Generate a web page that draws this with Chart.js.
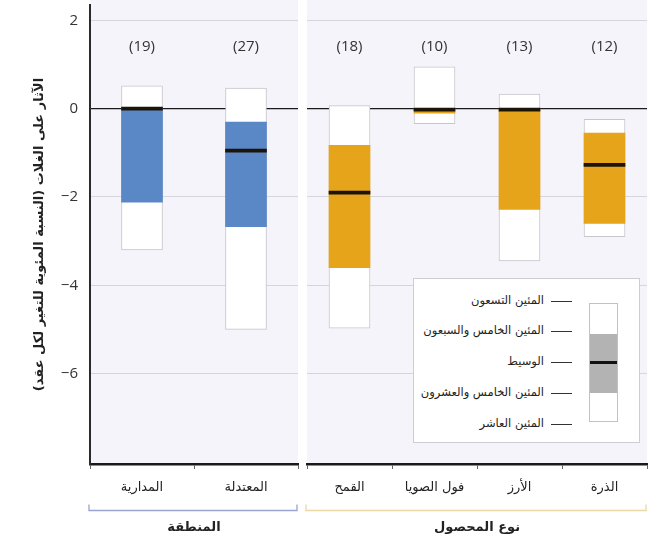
<!DOCTYPE html>
<html lang="ar">
<head>
<meta charset="utf-8">
<title>الآثار على الغلات</title>
<script src="https://cdn.jsdelivr.net/npm/chart.js@4/dist/chart.umd.min.js"></script>
<style>
  html, body { margin: 0; padding: 0; background: #fff; }
  #wrap { position: relative; width: 657px; height: 538px; overflow: hidden; }
  #left { position: absolute; left: 0; top: 0; }
  #right { position: absolute; left: 300px; top: 0; }
  .legend { position: absolute; left: 413px; top: 278px; width: 227px; height: 165px;
            background: #fff; border: 1px solid #cdcdd3; box-sizing: border-box; }
  .legend .lab { position: absolute; right: 95px; height: 14px; line-height: 14px; margin-top: -8px;
                 font: 11.5px 'DejaVu Sans', sans-serif; color: #222; white-space: nowrap; }
  .legend .dash { position: absolute; left: 137px; width: 21px; height: 1px; background: #333; }
  .legend .mini { position: absolute; left: 175px; top: 24px; width: 29px; height: 119px;
                  background: #fff; border: 1px solid #c2c2c6; box-sizing: border-box; }
  .legend .band { position: absolute; left: 0; right: 0; top: 30px; height: 59px; background: #b3b3b3; }
  .legend .med { position: absolute; left: 0; right: 0; top: 57px; height: 3px; background: #111; }
</style>
</head>
<body>
<div id="wrap">
  <canvas id="left" width="300" height="538"></canvas>
  <canvas id="right" width="357" height="538"></canvas>
  <div class="legend" id="legend">
    <div class="mini"><div class="band"></div><div class="med"></div></div>
  </div>
</div>
<script>
// Percent change in yield per decade: 10th/25th/50th/75th/90th percentiles
const yTicks = [2, 0, -2, -4, -6];

const regionLabels = ['المدارية', 'المعتدلة'];
const regionCounts = [19, 27];
const regionP10 = [-3.2, -5.0];
const regionP25 = [-2.12, -2.67];
const regionMedian = [0, -0.95];
const regionP75 = [0, -0.3];
const regionP90 = [0.52, 0.47];

const cropLabels = ['القمح', 'فول الصويا', 'الأرز', 'الذرة'];
const cropCounts = [18, 10, 13, 12];
const cropP10 = [-4.97, -0.34, -3.45, -2.9];
const cropP25 = [-3.6, -0.1, -2.28, -2.6];
const cropMedian = [-1.9, -0.02, -0.02, -1.27];
const cropP75 = [-0.83, 0, 0, -0.55];
const cropP90 = [0.07, 0.95, 0.33, -0.24];

const legendLabels = ['المئين التسعون', 'المئين الخامس والسبعون', 'الوسيط', 'المئين الخامس والعشرون', 'المئين العاشر'];

const Y_MIN = -8.05, Y_MAX = 2.35;
const BLUE = '#5a87c6', GOLD = '#e6a41b';
const AR = "'DejaVu Sans', sans-serif";
const LAT = "'Open Sans', sans-serif";
const RLM = '\u200F';

// legend rows
const legendRowY = [22, 52, 83, 114, 145];
const legendEl = document.getElementById('legend');
legendLabels.forEach((t, i) => {
  const lab = document.createElement('span');
  lab.className = 'lab'; lab.dir = 'rtl'; lab.textContent = t;
  lab.style.top = legendRowY[i] + 'px';
  const dash = document.createElement('span');
  dash.className = 'dash'; dash.style.top = legendRowY[i] + 'px';
  legendEl.appendChild(lab); legendEl.appendChild(dash);
});

function boxDatasets(p10, p25, med, p75, p90, color) {
  const common = { grouped: false, barThickness: 41, borderSkipped: false };
  return [
    { ...common, label: 'median', data: med.map(m => [m - 0.035, m + 0.035]), backgroundColor: '#1c1409', borderWidth: 0, order: 1 },
    { ...common, label: 'iqr', data: p25.map((v, i) => [v, p75[i]]), backgroundColor: color, borderWidth: 0, order: 2 },
    { ...common, label: 'range', data: p10.map((v, i) => [v, p90[i]]), backgroundColor: '#ffffff', borderColor: '#c6c6cb', borderWidth: 1, order: 3 }
  ];
}

const panelPlugin = {
  id: 'panel',
  beforeDraw(chart, args, opts) {
    const { ctx, chartArea: a } = chart;
    ctx.save();
    ctx.fillStyle = '#f4f4fa';
    ctx.fillRect(a.left, 0, a.right - a.left, a.bottom);
    ctx.restore();
  },
  afterDraw(chart, args, opts) {
    const { ctx, chartArea: a, scales: { x, y } } = chart;
    ctx.save();
    ctx.font = '15px ' + LAT;
    ctx.fillStyle = '#333';
    ctx.textAlign = 'center';
    ctx.textBaseline = 'middle';
    opts.counts.forEach((n, i) => ctx.fillText('(' + n + ')', x.getPixelForValue(i), y.getPixelForValue(1.4)));
    // group bracket under the category labels
    const by = 510.5;
    ctx.strokeStyle = opts.bracket;
    ctx.lineWidth = 1.3;
    ctx.beginPath();
    ctx.moveTo(a.left - 1, by - 6);
    ctx.lineTo(a.left - 1, by);
    ctx.lineTo(a.right - 1, by);
    ctx.lineTo(a.right - 1, by - 6);
    ctx.stroke();
    ctx.restore();
  }
};

function yScale(showLabels) {
  return {
    min: Y_MIN, max: Y_MAX,
    afterBuildTicks(s) { s.ticks = yTicks.map(v => ({ value: v })); },
    afterFit(s) {
      s.width = showLabels ? 90 : 0;
      s.paddingTop = 0; s.paddingBottom = 0;
    },
    grid: {
      drawTicks: false,
      color: c => (c.tick && c.tick.value === 0) ? '#1a1a1a' : '#d5d5dd',
      lineWidth: c => (c.tick && c.tick.value === 0) ? 1.3 : 1
    },
    border: { display: showLabels, color: '#2a2a2a', width: 2 },
    ticks: {
      display: showLabels,
      padding: 12,
      color: '#333',
      font: { family: LAT, size: 15 },
      callback: v => String(v).replace('-', '\u2212')
    },
    title: {
      display: showLabels,
      text: RLM + 'الآثار على الغلات (النسبة المئوية للتغير لكل عقد)' + RLM,
      color: '#222',
      font: { family: AR, size: 13, weight: 'bold' },
      padding: { top: 32, bottom: 0 }
    }
  };
}

function xScale(groupTitle) {
  return {
    offset: true,
    afterFit(s) {
      s.height = 74;
      s.paddingLeft = 0; s.paddingRight = 0;
    },
    grid: { offset: true, drawOnChartArea: false, drawTicks: true, tickLength: 5, color: '#666' },
    border: { display: true, color: '#1a1a1a', width: 2.5 },
    ticks: { color: '#222', font: { family: AR, size: 13 }, padding: 11, maxRotation: 0, autoSkip: false },
    title: {
      display: true, text: groupTitle, color: '#222',
      font: { family: AR, size: 13, weight: 'bold' },
      padding: { top: 0, bottom: 3 }
    }
  };
}

function makeChart(id, labels, ds, counts, bracket, groupTitle, showY, padding) {
  return new Chart(document.getElementById(id), {
    type: 'bar',
    data: { labels, datasets: ds },
    plugins: [panelPlugin],
    options: {
      responsive: false,
      animation: false,
      devicePixelRatio: 1,
      layout: { padding, autoPadding: false },
      plugins: {
        legend: { display: false },
        tooltip: { enabled: false },
        panel: { counts, bracket }
      },
      scales: { x: xScale(groupTitle), y: yScale(showY) }
    }
  });
}

makeChart('left', regionLabels,
  boxDatasets(regionP10, regionP25, regionMedian, regionP75, regionP90, BLUE),
  regionCounts, '#9ba3cf', 'المنطقة', true,
  { top: 5, right: 2, bottom: 0, left: 0 });

makeChart('right', cropLabels,
  boxDatasets(cropP10, cropP25, cropMedian, cropP75, cropP90, GOLD),
  cropCounts, '#ead8a4', 'نوع المحصول', false,
  { top: 5, right: 10, bottom: 0, left: 7 });
</script>
</body>
</html>
